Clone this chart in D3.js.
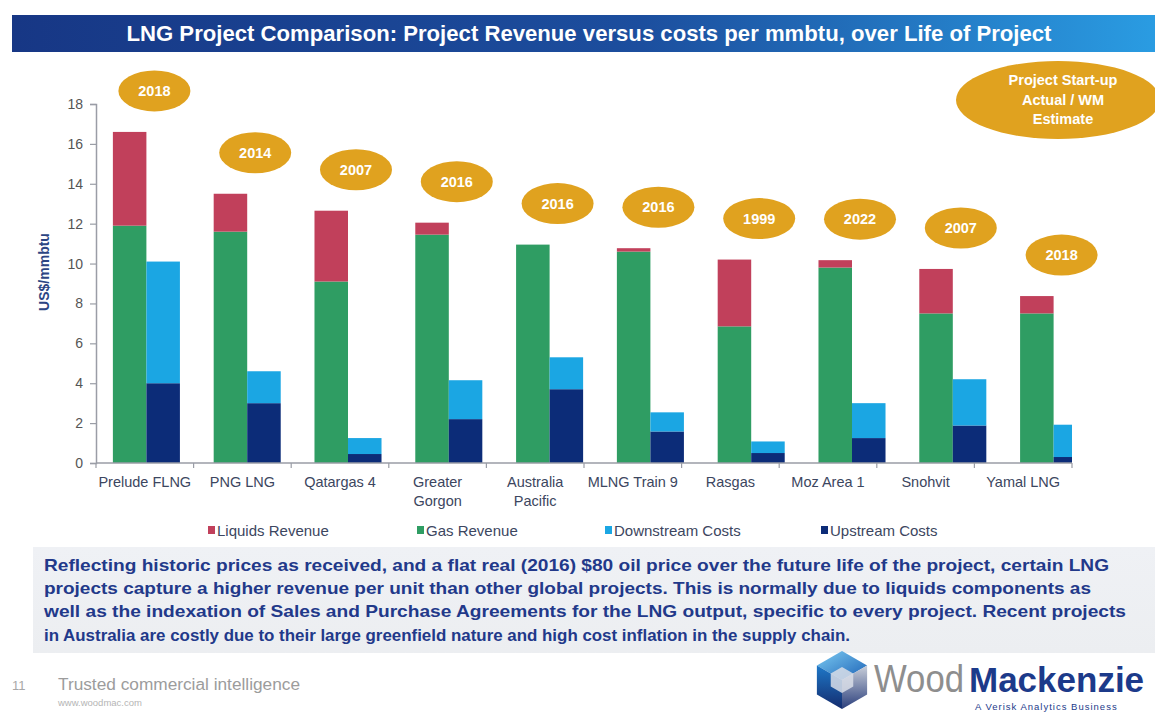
<!DOCTYPE html>
<html>
<head>
<meta charset="utf-8">
<script src="https://cdn.jsdelivr.net/npm/d3@7"></script>
<style>
  html, body { margin: 0; padding: 0; background: #fff; }
  svg { display: block; font-family: Arial, "Liberation Sans", sans-serif; }
</style>
</head>
<body>
<svg id="chart" width="1155" height="715"></svg>
<script>
// ---------------- data ----------------
const categories = ["Prelude FLNG", "PNG LNG", "Qatargas 4", "Greater Gorgon", "Australia Pacific",
                    "MLNG Train 9", "Rasgas", "Moz Area 1", "Snohvit", "Yamal LNG"];
const gasRevenue      = [11.9, 11.6, 9.1, 11.45, 10.95, 10.6, 6.85, 9.8, 7.5, 7.5];
const liquidsRevenue  = [4.7, 1.9, 3.55, 0.6, 0.0, 0.17, 3.35, 0.37, 2.23, 0.87];
const upstreamCosts   = [4.0, 3.0, 0.45, 2.2, 3.7, 1.58, 0.5, 1.25, 1.88, 0.3];
const downstreamCosts = [6.1, 1.6, 0.8, 1.95, 1.6, 0.96, 0.58, 1.75, 2.32, 1.62];
const startYears = ["2018", "2014", "2007", "2016", "2016", "2016", "1999", "2022", "2007", "2018"];
const yTicks = [0, 2, 4, 6, 8, 10, 12, 14, 16, 18];
const seriesNames = ["Liquids Revenue", "Gas Revenue", "Downstream Costs", "Upstream Costs"];
const twoLineLabels = ["Greater Gorgon", "Australia Pacific"];

const titleText = "LNG Project Comparison: Project Revenue versus costs per mmbtu, over Life of Project";
const paragraphLines = [
  "Reflecting historic prices as received, and a flat real (2016) $80 oil price over the future life of the project, certain LNG",
  "projects capture a higher revenue per unit than other global projects.  This is normally due to liquids components as",
  "well as the indexation of Sales and Purchase Agreements for the LNG output, specific to every project. Recent projects",
  "in Australia are costly due to their large greenfield nature and high cost inflation in the supply chain."
];

// ---------------- styles ----------------
const colors = {
  "Liquids Revenue": "#C1405B",
  "Gas Revenue": "#2F9D63",
  "Downstream Costs": "#1BA6E3",
  "Upstream Costs": "#0C2C78"
};
const gold = "#E0A21F";

const svg = d3.select("#chart");
const defs = svg.append("defs");

// ---------------- title bar ----------------
const tg = defs.append("linearGradient").attr("id", "titleGrad").attr("x1", "0").attr("x2", "1").attr("y1", "0").attr("y2", "0");
tg.append("stop").attr("offset", "0%").attr("stop-color", "#173785");
tg.append("stop").attr("offset", "55%").attr("stop-color", "#1C4E9E");
tg.append("stop").attr("offset", "100%").attr("stop-color", "#2A9CE2");
svg.append("rect").attr("x", 12).attr("y", 15).attr("width", 1143).attr("height", 37).attr("fill", "url(#titleGrad)");
svg.append("text")
  .attr("x", 589).attr("y", 41)
  .attr("text-anchor", "middle")
  .attr("fill", "#fff")
  .attr("font-family", "'Liberation Sans Narrow', 'Arial Narrow', Arial, sans-serif")
  .attr("font-weight", "bold")
  .attr("font-size", 22)
  .attr("textLength", 925).attr("lengthAdjust", "spacingAndGlyphs")
  .text(titleText);

// ---------------- scales ----------------
const plotLeft = 96, plotRight = 1072, plotTop = 104, plotBottom = 463;
const y = d3.scaleLinear().domain([0, 18]).range([plotBottom, plotTop]);
// axis (tick / label) scale
const xAxisScale = d3.scaleBand().domain(categories).range([plotLeft, plotRight]);
// bar group scale (bars in the original sit on a slightly wider spacing than the axis)
const xBars = d3.scaleBand().domain(categories).range([plotLeft, 1104]).paddingInner(0.335).paddingOuter(0.1675);
const xSub = d3.scaleBand().domain(["revenue", "cost"]).range([0, xBars.bandwidth()]);

defs.append("clipPath").attr("id", "plotClip")
  .append("rect").attr("x", plotLeft).attr("y", 0).attr("width", plotRight - plotLeft).attr("height", plotBottom + 1);

// ---------------- bars ----------------
const rows = categories.map((c, i) => ({
  cat: c,
  gas: gasRevenue[i], liq: liquidsRevenue[i],
  up: upstreamCosts[i], down: downstreamCosts[i],
  year: startYears[i]
}));

const revStack = d3.stack().keys(["gas", "liq"])(rows);
const costStack = d3.stack().keys(["up", "down"])(rows);
const keyColor = { gas: colors["Gas Revenue"], liq: colors["Liquids Revenue"], up: colors["Upstream Costs"], down: colors["Downstream Costs"] };

const barsG = svg.append("g").attr("clip-path", "url(#plotClip)");
function drawStack(stack, sub) {
  stack.forEach(layer => {
    barsG.append("g").attr("fill", keyColor[layer.key])
      .selectAll("rect").data(layer).join("rect")
      .attr("x", d => xBars(d.data.cat) + xSub(sub))
      .attr("width", xSub.bandwidth())
      .attr("y", d => y(d[1]))
      .attr("height", d => Math.max(0, y(d[0]) - y(d[1])));
  });
}
drawStack(revStack, "revenue");
drawStack(costStack, "cost");

// ---------------- axes ----------------
const axisColor = "#9A9DA6";
const yAxis = svg.append("g").attr("transform", `translate(${plotLeft},0)`)
  .call(d3.axisLeft(y).tickValues(yTicks).tickSize(6).tickPadding(7).tickFormat(d3.format("d")));
yAxis.select(".domain").attr("stroke", axisColor).attr("stroke-width", 1.5);
yAxis.selectAll(".tick line").attr("stroke", axisColor).attr("stroke-width", 1.2);
yAxis.selectAll(".tick text").attr("fill", "#555").attr("font-size", 14).attr("font-family", "Arial, 'Liberation Sans', sans-serif");

// x axis line
svg.append("line").attr("x1", plotLeft).attr("x2", plotRight).attr("y1", plotBottom).attr("y2", plotBottom)
  .attr("stroke", axisColor).attr("stroke-width", 1.5);
// boundary ticks
const boundaries = categories.map(c => xAxisScale(c)).concat([xAxisScale.range()[1]]);
svg.append("g").selectAll("line").data(boundaries).join("line")
  .attr("x1", d => d).attr("x2", d => d).attr("y1", plotBottom).attr("y2", plotBottom + 5)
  .attr("stroke", axisColor).attr("stroke-width", 1.2);

// category labels
const xLab = svg.append("g");
categories.forEach(c => {
  const lines = twoLineLabels.includes(c) ? c.split(" ") : [c];
  const t = xLab.append("text")
    .attr("x", xAxisScale(c) + xAxisScale.bandwidth() / 2)
    .attr("y", 487)
    .attr("text-anchor", "middle")
    .attr("fill", "#3C4660")
    .attr("font-size", 14.5);
  lines.forEach((ln, k) => t.append("tspan").attr("x", xAxisScale(c) + xAxisScale.bandwidth() / 2).attr("dy", k === 0 ? 0 : 19).text(ln));
});

// y axis title
svg.append("text")
  .attr("transform", "translate(49,272) rotate(-90)")
  .attr("text-anchor", "middle")
  .attr("fill", "#2C4583")
  .attr("font-weight", "bold")
  .attr("font-size", 14)
  .text("US$/mmbtu");

// ---------------- start-year bubbles ----------------
const bubbles = svg.append("g");
rows.forEach(r => {
  const cx = xBars(r.cat) + xBars.bandwidth() / 2 + 8;
  const cy = y(Math.max(r.gas + r.liq, r.up + r.down)) - 41;
  bubbles.append("ellipse").attr("cx", cx).attr("cy", cy).attr("rx", 36).attr("ry", 20.5).attr("fill", gold);
  bubbles.append("text").attr("x", cx).attr("y", cy + 5).attr("text-anchor", "middle")
    .attr("fill", "#fff").attr("font-weight", "bold").attr("font-size", 14.5).text(r.year);
});

// big key bubble
svg.append("ellipse").attr("cx", 1058).attr("cy", 100).attr("rx", 102).attr("ry", 39).attr("fill", gold);
const keyLines = ["Project Start-up", "Actual / WM", "Estimate"];
keyLines.forEach((t, i) => {
  svg.append("text").attr("x", 1063).attr("y", 85 + i * 19.5).attr("text-anchor", "middle")
    .attr("fill", "#fff").attr("font-weight", "bold").attr("font-size", 14.5).text(t);
});

// ---------------- legend ----------------
const legendX = [208, 417, 605, 821];
const legend = svg.append("g");
seriesNames.forEach((s, i) => {
  legend.append("rect").attr("x", legendX[i]).attr("y", 526).attr("width", 7).attr("height", 8).attr("fill", colors[s]);
  legend.append("text").attr("x", legendX[i] + 9).attr("y", 535.5).attr("fill", "#3C4660")
    .attr("font-size", 15).text(s);
});

// ---------------- paragraph box ----------------
const pg = defs.append("linearGradient").attr("id", "boxGrad").attr("x1", "0").attr("x2", "0").attr("y1", "0").attr("y2", "1");
pg.append("stop").attr("offset", "0%").attr("stop-color", "#EFF1F5");
pg.append("stop").attr("offset", "100%").attr("stop-color", "#ECEEF1");
svg.append("rect").attr("x", 33).attr("y", 547).attr("width", 1122).attr("height", 106).attr("fill", "url(#boxGrad)");
const lineWidths = [1065, 1047, 1082, 806];
paragraphLines.forEach((t, i) => {
  svg.append("text").attr("x", 44).attr("y", 571 + i * 23.2)
    .attr("fill", "#22398A").attr("font-weight", "bold").attr("font-size", 16.5)
    .attr("textLength", lineWidths[i]).attr("lengthAdjust", "spacingAndGlyphs")
    .text(t);
});

// ---------------- footer ----------------
svg.append("text").attr("x", 12).attr("y", 690).attr("fill", "#A8A8A8").attr("font-size", 13).text("11");
svg.append("text").attr("x", 58).attr("y", 690).attr("fill", "#9C9C9C").attr("font-size", 16)
  .attr("textLength", 242).attr("lengthAdjust", "spacingAndGlyphs").text("Trusted commercial intelligence");
svg.append("text").attr("x", 58).attr("y", 706).attr("fill", "#B5B5B5").attr("font-size", 9.5).text("www.woodmac.com");

// ---------------- logo ----------------
const lcx = 842, lcy = 680, R = 29;
const hv = d3.range(6).map(k => {
  const a = (-90 + 60 * k) * Math.PI / 180;
  return [lcx + R * Math.cos(a), lcy + R * Math.sin(a)];
});
const ctr = [lcx, lcy];
const g1 = defs.append("linearGradient").attr("id", "lg1").attr("x1", "0").attr("y1", "0").attr("x2", "1").attr("y2", "1");
g1.append("stop").attr("offset", "0%").attr("stop-color", "#7CCBF2");
g1.append("stop").attr("offset", "100%").attr("stop-color", "#1C62B6");
const g2 = defs.append("linearGradient").attr("id", "lg2").attr("x1", "0").attr("y1", "0").attr("x2", "0").attr("y2", "1");
g2.append("stop").attr("offset", "0%").attr("stop-color", "#1E78C8");
g2.append("stop").attr("offset", "100%").attr("stop-color", "#142C6E");
const g3 = defs.append("linearGradient").attr("id", "lg3").attr("x1", "0").attr("y1", "0").attr("x2", "0").attr("y2", "1");
g3.append("stop").attr("offset", "0%").attr("stop-color", "#C9CFDA");
g3.append("stop").attr("offset", "100%").attr("stop-color", "#2B3F7C");
const line = d3.line();
svg.append("path").attr("d", line([hv[0], hv[1], ctr, hv[5]]) + "Z").attr("fill", "url(#lg1)");
svg.append("path").attr("d", line([hv[5], ctr, hv[3], hv[4]]) + "Z").attr("fill", "url(#lg2)");
svg.append("path").attr("d", line([hv[1], hv[2], hv[3], ctr]) + "Z").attr("fill", "url(#lg3)");
const inner = d3.range(6).map(k => {
  const a = (-90 + 60 * k) * Math.PI / 180;
  return [lcx + 13 * Math.cos(a), lcy + 13 * Math.sin(a)];
});
svg.append("path").attr("d", line(inner) + "Z").attr("fill", "#D9DEE7").attr("opacity", 0.85);

svg.append("text").attr("x", 874).attr("y", 692).attr("fill", "#8E8E8E").attr("font-size", 38)
  .attr("textLength", 90).attr("lengthAdjust", "spacingAndGlyphs").text("Wood");
svg.append("text").attr("x", 969).attr("y", 692).attr("fill", "#1C3A8A").attr("font-weight", "bold").attr("font-size", 35)
  .text("Mackenzie");
svg.append("text").attr("x", 975).attr("y", 710).attr("fill", "#1C3A8A").attr("font-size", 9.5)
  .attr("letter-spacing", 1).text("A Verisk Analytics Business");
</script>
</body>
</html>
